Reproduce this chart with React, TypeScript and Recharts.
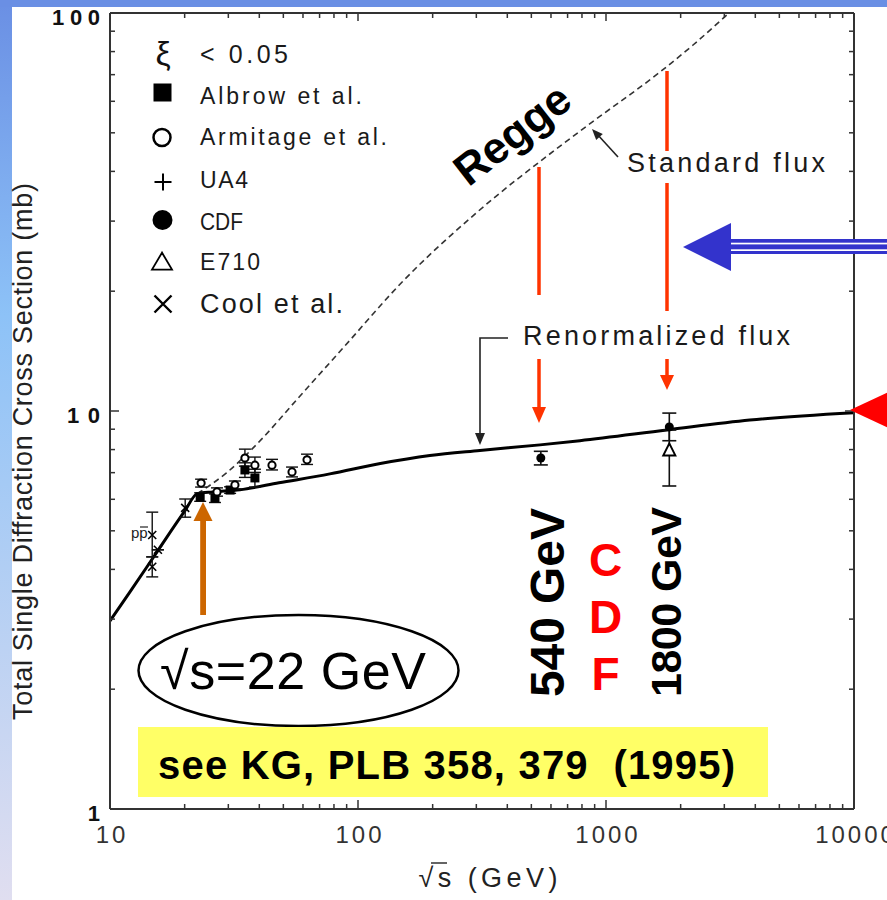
import React from 'react';
import { ComposedChart, Line, Scatter, XAxis, YAxis, ErrorBar } from 'recharts';

const FONT = "'Liberation Sans', Arial, Helvetica, sans-serif";

// ---- ticks ----
const xTicks = [10, 20, 30, 40, 50, 60, 70, 80, 90, 100, 200, 300, 400, 500, 600, 700, 800, 900, 1000, 2000, 3000, 4000, 5000, 6000, 7000, 8000, 9000, 10000];
const yTicks = [1, 2, 3, 4, 5, 6, 7, 8, 9, 10, 20, 30, 40, 50, 60, 70, 80, 90, 100];
const xDecadeLabels = ['10', '100', '1000', '10000'];
const yDecadeLabels = ['1', '10', '100'];

// ---- curves (sqrt(s) [GeV], sigma [mb]) ----
const renormalizedFlux = [
  { x: 10, y: 2.97 }, { x: 12, y: 3.5 }, { x: 15.6, y: 4.46 }, { x: 20, y: 5.6 },
  { x: 22.5, y: 6.2 }, { x: 26, y: 6.26 }, { x: 33.4, y: 6.34 }, { x: 48, y: 6.6 },
  { x: 77, y: 6.95 }, { x: 123, y: 7.38 }, { x: 195, y: 7.73 }, { x: 310, y: 7.96 },
  { x: 542, y: 8.22 }, { x: 785, y: 8.42 }, { x: 1760, y: 8.96 }, { x: 3800, y: 9.49 },
  { x: 10000, y: 9.9 },
];
const standardFlux = [
  { x: 22.5, y: 6.2 }, { x: 29.4, y: 6.98 }, { x: 40.6, y: 8.46 }, { x: 56.8, y: 10.7 },
  { x: 87.9, y: 14.5 }, { x: 153, y: 21.3 }, { x: 299, y: 31.4 }, { x: 653, y: 46.3 },
  { x: 879, y: 53.2 }, { x: 1652, y: 71.1 }, { x: 2244, y: 83.1 }, { x: 3130, y: 100 },
];

// ---- data points: err = [down, up] ----
const albrow = [
  { x: 23.1, y: 6.08, err: [0.15, 0.15] },
  { x: 26.5, y: 6.04, err: [0.15, 0.15] },
  { x: 30.5, y: 6.33, err: [0.12, 0.12] },
  { x: 35.0, y: 7.11, err: [0.3, 0.3] },
  { x: 38.4, y: 6.79, err: [0.35, 0.35] },
];
const armitage = [
  { x: 23.3, y: 6.59, err: [0.15, 0.15] },
  { x: 27.0, y: 6.26, err: [0.15, 0.15] },
  { x: 31.9, y: 6.52, err: [0.15, 0.15] },
  { x: 35.0, y: 7.62, err: [0.35, 0.4] },
  { x: 38.4, y: 7.31, err: [0.3, 0.35] },
  { x: 45.0, y: 7.31, err: [0.2, 0.25] },
  { x: 54.2, y: 7.03, err: [0.2, 0.2] },
  { x: 62.3, y: 7.54, err: [0.2, 0.25] },
];
const cool = [
  { x: 14.8, y: 4.88, err: [0.58, 0.69] },
  { x: 15.6, y: 4.48, err: [0.0, 0.0] },
  { x: 14.8, y: 4.06, err: [0.23, 0.24] },
  { x: 20.1, y: 5.71, err: [0.3, 0.3] },
];
const cdf = [
  { x: 546, y: 7.62, err: [0.3, 0.3] },
  { x: 1800, y: 9.12, err: [0.7, 0.76] },
];
const e710 = [
  { x: 1800, y: 7.98, err: [1.5, 0.98] },
];

// ---- marker shapes ----
const FilledSquare = ({ cx, cy, s = 9 }: any) => <rect x={cx - s / 2} y={cy - s / 2} width={s} height={s} fill="#000" />;
const OpenCircle = ({ cx, cy, r = 3.6, sw = 2 }: any) => <circle cx={cx} cy={cy} r={r} fill="#fff" stroke="#000" strokeWidth={sw} />;
const FilledCircle = ({ cx, cy, r = 4.5 }: any) => <circle cx={cx} cy={cy} r={r} fill="#000" />;
const OpenTriangle = ({ cx, cy, w = 12, h = 12, sw = 2 }: any) => (
  <polygon points={`${cx},${cy - h * 0.55} ${cx - w / 2},${cy + h * 0.45} ${cx + w / 2},${cy + h * 0.45}`} fill="#fff" stroke="#000" strokeWidth={sw} />
);
const Cross = ({ cx, cy, s = 8, sw = 1.6 }: any) => (
  <path d={`M${cx - s / 2},${cy - s / 2}L${cx + s / 2},${cy + s / 2}M${cx - s / 2},${cy + s / 2}L${cx + s / 2},${cy - s / 2}`} stroke="#000" strokeWidth={sw} fill="none" />
);
const Plus = ({ cx, cy, s = 8, sw = 1.6 }: any) => (
  <path d={`M${cx - s / 2},${cy}L${cx + s / 2},${cy}M${cx},${cy - s / 2}L${cx},${cy + s / 2}`} stroke="#000" strokeWidth={sw} fill="none" />
);

const isDecade = (v: number) => Math.abs(Math.log10(v) - Math.round(Math.log10(v))) < 1e-6;
const TICK = '#333';

const BottomTick = (props: any) => {
  const { x, y, payload } = props;
  const v = payload.value;
  const major = isDecade(v);
  return (
    <g>
      <line x1={x} y1={y} x2={x} y2={y - (major ? 9 : 5)} stroke={TICK} strokeWidth={1.5} />
      {major && (
        <text x={x + 2} y={y + 34} textAnchor="middle" fontSize={24} fill="#333" letterSpacing={3} fontFamily={FONT}>
          {xDecadeLabels[Math.round(Math.log10(v)) - 1]}
        </text>
      )}
    </g>
  );
};
const TopTick = (props: any) => {
  const { x, y, payload } = props;
  const major = isDecade(payload.value);
  return <line x1={x} y1={y} x2={x} y2={y + (major ? 8 : 5)} stroke={TICK} strokeWidth={1.5} />;
};
const LeftTick = (props: any) => {
  const { x, y, payload } = props;
  const v = payload.value;
  const major = isDecade(v);
  const lab = yDecadeLabels[Math.round(Math.log10(v))];
  return (
    <g>
      <line x1={x} y1={y} x2={x + (major ? 9 : 5)} y2={y} stroke={TICK} strokeWidth={1.5} />
      {major && (
        <text x={x - 10} y={y + 4} textAnchor="end" dominantBaseline="central" fontSize={22} fontWeight="bold" fill="#111"
          fontFamily={FONT} textLength={lab.length === 1 ? undefined : lab.length === 2 ? 33 : 48} lengthAdjust="spacing">
          {lab}
        </text>
      )}
    </g>
  );
};
const RightTick = (props: any) => {
  const { x, y, payload } = props;
  const major = isDecade(payload.value);
  return <line x1={x} y1={y} x2={x - (major ? 9 : 5)} y2={y} stroke={TICK} strokeWidth={1.5} />;
};

const arrowHead = (tx: number, ty: number, fx: number, fy: number, len: number, hw: number) => {
  const dx = tx - fx, dy = ty - fy;
  const d = Math.hypot(dx, dy);
  const ux = dx / d, uy = dy / d;
  const bx = tx - ux * len, by = ty - uy * len;
  return `${tx},${ty} ${bx - uy * hw},${by + ux * hw} ${bx + uy * hw},${by - ux * hw}`;
};

const RED = '#ff3300';
const axisLine = { stroke: '#333', strokeWidth: 2 };

export default function App() {
  return (
    <div style={{ position: 'absolute', left: 0, top: 0, width: 887, height: 900, background: '#fff', overflow: 'hidden' }}>
      <ComposedChart width={887} height={900} margin={{ top: 12, right: 32, bottom: 90, left: 109 }}>
        <XAxis xAxisId={0} dataKey="x" type="number" scale="log" domain={[10, 10000]} allowDataOverflow ticks={xTicks}
          interval={0} height={1} tickSize={0} tickMargin={0} tickLine={false} tick={BottomTick} axisLine={axisLine} />
        <XAxis xAxisId="top" orientation="top" dataKey="x" type="number" scale="log" domain={[10, 10000]} allowDataOverflow ticks={xTicks}
          interval={0} height={1} tickSize={0} tickMargin={0} tickLine={false} tick={TopTick} axisLine={axisLine} />
        <YAxis yAxisId={0} dataKey="y" type="number" scale="log" domain={[1, 100]} allowDataOverflow ticks={yTicks}
          interval={0} width={1} tickSize={0} tickMargin={0} tickLine={false} tick={LeftTick} axisLine={axisLine} />
        <YAxis yAxisId="right" orientation="right" dataKey="y" type="number" scale="log" domain={[1, 100]} allowDataOverflow ticks={yTicks}
          interval={0} width={1} tickSize={0} tickMargin={0} tickLine={false} tick={RightTick} axisLine={axisLine} />

        <Line data={standardFlux} dataKey="y" type="monotone" stroke="#333" strokeWidth={1.6} strokeDasharray="6 4"
          dot={false} activeDot={false} isAnimationActive={false} />
        <Line data={renormalizedFlux} dataKey="y" type="monotone" stroke="#000" strokeWidth={3}
          dot={false} activeDot={false} isAnimationActive={false} />

        <Scatter data={cool} dataKey="y" isAnimationActive={false} shape={(p: any) => <Cross cx={p.cx} cy={p.cy} />}>
          <ErrorBar dataKey="err" direction="y" width={6} stroke="#111" strokeWidth={1.4} isAnimationActive={false} />
        </Scatter>
        <Scatter data={albrow} dataKey="y" isAnimationActive={false} shape={(p: any) => <FilledSquare cx={p.cx} cy={p.cy} />}>
          <ErrorBar dataKey="err" direction="y" width={6} stroke="#111" strokeWidth={1.4} isAnimationActive={false} />
        </Scatter>
        <Scatter data={armitage} dataKey="y" isAnimationActive={false} shape={(p: any) => <OpenCircle cx={p.cx} cy={p.cy} />}>
          <ErrorBar dataKey="err" direction="y" width={6} stroke="#111" strokeWidth={1.4} isAnimationActive={false} />
        </Scatter>
        <Scatter data={e710} dataKey="y" isAnimationActive={false} shape={(p: any) => <OpenTriangle cx={p.cx} cy={p.cy} />}>
          <ErrorBar dataKey="err" direction="y" width={7} stroke="#111" strokeWidth={1.6} isAnimationActive={false} />
        </Scatter>
        <Scatter data={cdf} dataKey="y" isAnimationActive={false} shape={(p: any) => <FilledCircle cx={p.cx} cy={p.cy} />}>
          <ErrorBar dataKey="err" direction="y" width={7} stroke="#111" strokeWidth={1.6} isAnimationActive={false} />
        </Scatter>
      </ComposedChart>

      <svg width={887} height={900} style={{ position: 'absolute', left: 0, top: 0, pointerEvents: 'none' }} fontFamily={FONT}>
        <defs>
          <linearGradient id="leftBand" x1="0" y1="0" x2="0" y2="1">
            <stop offset="0" stopColor="#6a8fe4" />
            <stop offset="0.35" stopColor="#8dc2f7" />
            <stop offset="1" stopColor="#e0def0" />
          </linearGradient>
        </defs>
        <rect x={0} y={0} width={12} height={900} fill="url(#leftBand)" />
        <rect x={0} y={0} width={887} height={7} fill="#6a8fe4" />

        {/* legend */}
        <text x={163} y={65} fontSize={34} textAnchor="middle" fill="#111">ξ</text>
        <text x={200} y={63} fontSize={25} fill="#1a1a1a" textLength={88} lengthAdjust="spacing" style={{ whiteSpace: 'pre' }}>{'< 0.05'}</text>
        <FilledSquare cx={162.5} cy={92.5} s={18} />
        <text x={200} y={104} fontSize={23} fill="#1a1a1a" textLength={162} lengthAdjust="spacing">Albrow et al.</text>
        <OpenCircle cx={162} cy={137.5} r={8.5} sw={2.5} />
        <text x={200} y={145} fontSize={23} fill="#1a1a1a" textLength={187} lengthAdjust="spacing">Armitage et al.</text>
        <Plus cx={163} cy={182} s={17} sw={2} />
        <text x={200} y={188} fontSize={23} fill="#1a1a1a" textLength={48} lengthAdjust="spacing">UA4</text>
        <FilledCircle cx={162.5} cy={220} r={10} />
        <text x={200} y={230} fontSize={23} fill="#1a1a1a" textLength={43} lengthAdjust="spacingAndGlyphs">CDF</text>
        <OpenTriangle cx={162} cy={262} w={20} h={17} sw={1.8} />
        <text x={200} y={270} fontSize={23} fill="#1a1a1a" textLength={60} lengthAdjust="spacing">E710</text>
        <Cross cx={163} cy={304} s={17} sw={2.4} />
        <text x={200} y={313} fontSize={27} fill="#1a1a1a" textLength={143} lengthAdjust="spacing">Cool et al.</text>

        {/* p pbar label */}
        <text x={131} y={538} fontSize={15} fill="#222">pp</text>
        <line x1={140} y1={527} x2={148} y2={527} stroke="#222" strokeWidth={1.2} />

        {/* Regge */}
        <text x={512} y={134} transform="rotate(-38 512 134)" textAnchor="middle" dominantBaseline="central" fontSize={44} fontWeight="bold" fill="#000">Regge</text>

        {/* Standard flux */}
        <text x={627} y={172} fontSize={27} fill="#1a1a1a" textLength={198} lengthAdjust="spacing">Standard flux</text>
        <line x1={618} y1={157} x2={597} y2={134} stroke="#222" strokeWidth={1.6} />
        <polygon points={arrowHead(592, 129, 618, 157, 11, 4.5)} fill="#222" />

        {/* Renormalized flux */}
        <text x={523} y={345} fontSize={27} fill="#1a1a1a" textLength={267} lengthAdjust="spacing">Renormalized flux</text>
        <polyline points="508,338 480,338 480,434" fill="none" stroke="#222" strokeWidth={1.6} />
        <polygon points={arrowHead(480, 445, 480, 420, 12, 5)} fill="#222" />

        {/* red arrows */}
        <line x1={539} y1={167} x2={539} y2={295} stroke={RED} strokeWidth={3.5} />
        <line x1={539} y1={359} x2={539} y2={409} stroke={RED} strokeWidth={3.5} />
        <polygon points={arrowHead(539, 423, 539, 400, 16, 7)} fill={RED} />
        <line x1={667} y1={71} x2={667} y2={151} stroke={RED} strokeWidth={3.5} />
        <line x1={667} y1={183} x2={667} y2={311} stroke={RED} strokeWidth={3.5} />
        <line x1={667} y1={359} x2={667} y2={377} stroke={RED} strokeWidth={3.5} />
        <polygon points={arrowHead(667, 390, 667, 370, 15, 7)} fill={RED} />

        {/* blue arrow */}
        <polygon points="683,247 731,223 731,271" fill="#3333cc" />
        <rect x={729} y={239} width={160} height={15} fill="#3333cc" />
        <rect x={731} y={242.7} width={160} height={1.7} fill="#fff" />
        <rect x={731} y={249.3} width={160} height={1.7} fill="#fff" />

        {/* red triangle at right */}
        <polygon points="850,410 910,382 910,438" fill="#ff0000" />

        {/* orange arrow */}
        <rect x={200.2} y={519} width={5.8} height={96} fill="#cc6600" />
        <polygon points="203,502 193.5,521 212.5,521" fill="#cc6600" />

        {/* ellipse */}
        <ellipse cx={298.5} cy={670.5} rx={160} ry={55.5} fill="#fff" stroke="#000" strokeWidth={2.5} />
        <text x={160} y={689} fontSize={52} fill="#000" textLength={266} lengthAdjust="spacing">√s=22 GeV</text>

        {/* rotated energies */}
        <text transform="translate(564,697) rotate(-90)" fontSize={48} fontWeight="bold" fill="#000" textLength={189} lengthAdjust="spacing">540 GeV</text>
        <text transform="translate(681,697) rotate(-90)" fontSize={43} fontWeight="bold" fill="#000" textLength={190} lengthAdjust="spacing">1800 GeV</text>
        <text x={605.5} y={576} textAnchor="middle" fontSize={46} fontWeight="bold" fill="#ff0000">C</text>
        <text x={605.5} y={633} textAnchor="middle" fontSize={46} fontWeight="bold" fill="#ff0000">D</text>
        <text x={605.5} y={690} textAnchor="middle" fontSize={46} fontWeight="bold" fill="#ff0000">F</text>

        {/* yellow box */}
        <rect x={138} y={727} width={630} height={70} fill="#ffff66" />
        <text x={158} y={779} fontSize={40} fontWeight="bold" fill="#000" textLength={577} lengthAdjust="spacing" style={{ whiteSpace: 'pre' }}>{'see KG, PLB 358, 379  (1995)'}</text>

        {/* axis titles */}
        <text transform="translate(32,720) rotate(-90)" fontSize={27} fill="#222" textLength={537} lengthAdjust="spacing">Total Single Diffraction Cross Section (mb)</text>
        <text x={418.5} y={887} fontSize={27} fill="#222" textLength={139} lengthAdjust="spacing">√s (GeV)</text>
        <line x1={431} y1={863} x2={447} y2={863} stroke="#222" strokeWidth={1.4} />
      </svg>
    </div>
  );
}
